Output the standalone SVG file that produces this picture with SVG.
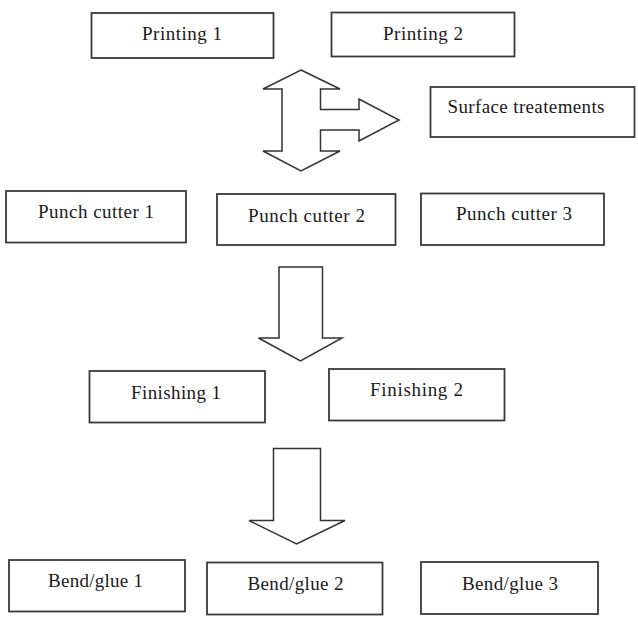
<svg xmlns="http://www.w3.org/2000/svg" width="638" height="624" viewBox="0 0 638 624">
<style>
.box{fill:#fff;stroke:#3a3a3a;stroke-width:1.8}
.lbl{font-family:"Liberation Serif","Times New Roman",serif;font-size:19px;fill:#1a1a1a;text-anchor:middle}
.arr{fill:#fff;stroke:#333;stroke-width:1.5;stroke-linejoin:miter}
</style>
<rect width="638" height="624" fill="#fff"/>
<g id="printing1"><rect class="box" x="91.5" y="13" width="182" height="45"/><text class="lbl" x="182" y="40" textLength="80" lengthAdjust="spacing">Printing 1</text></g>
<g id="printing2"><rect class="box" x="331.5" y="12.5" width="183" height="44"/><text class="lbl" x="423" y="40" textLength="80" lengthAdjust="spacing">Printing 2</text></g>
<g id="surface"><rect class="box" x="430.5" y="87" width="204" height="50"/><text class="lbl" x="526" y="113" textLength="157" lengthAdjust="spacing">Surface treatements</text></g>
<g id="punch1"><rect class="box" x="6" y="191" width="180" height="51.5"/><text class="lbl" x="96" y="217.5" textLength="116" lengthAdjust="spacing">Punch cutter 1</text></g>
<g id="punch2"><rect class="box" x="217" y="194" width="178.5" height="51"/><text class="lbl" x="306.5" y="221.5" textLength="117" lengthAdjust="spacing">Punch cutter 2</text></g>
<g id="punch3"><rect class="box" x="421" y="193.5" width="183" height="51.5"/><text class="lbl" x="514" y="219.5" textLength="116" lengthAdjust="spacing">Punch cutter 3</text></g>
<g id="finishing1"><rect class="box" x="89.5" y="371" width="175.5" height="51.5"/><text class="lbl" x="176" y="398.5" textLength="90" lengthAdjust="spacing">Finishing 1</text></g>
<g id="finishing2"><rect class="box" x="329" y="369" width="175.5" height="51.5"/><text class="lbl" x="416.5" y="396" textLength="93" lengthAdjust="spacing">Finishing 2</text></g>
<g id="bend1"><rect class="box" x="9" y="560" width="176" height="51.5"/><text class="lbl" x="95.5" y="587" textLength="95" lengthAdjust="spacing">Bend/glue 1</text></g>
<g id="bend2"><rect class="box" x="207" y="562.5" width="175.5" height="52"/><text class="lbl" x="295.5" y="589.5" textLength="96" lengthAdjust="spacing">Bend/glue 2</text></g>
<g id="bend3"><rect class="box" x="421" y="562" width="177" height="52"/><text class="lbl" x="510" y="589.5" textLength="96" lengthAdjust="spacing">Bend/glue 3</text></g>
<g id="connectors">
<path class="arr" d="M301,70 L340,89 L320.5,89 L320.5,109.5 L359,109.5 L359,99 L399,120 L359,141 L359,130 L320.5,130 L320.5,151 L340,151 L301,171 L263,151 L282,151 L282,89 L263,89 Z"/>
<path class="arr" d="M279,267 L322.5,267 L322.5,338 L342,338 L300.5,361 L258.5,338 L279,338 Z"/>
<path class="arr" d="M273.5,448.5 L320.5,448.5 L320.5,520.5 L345,520.5 L296.5,544 L249,520.5 L273.5,520.5 Z"/>
</g>
</svg>
